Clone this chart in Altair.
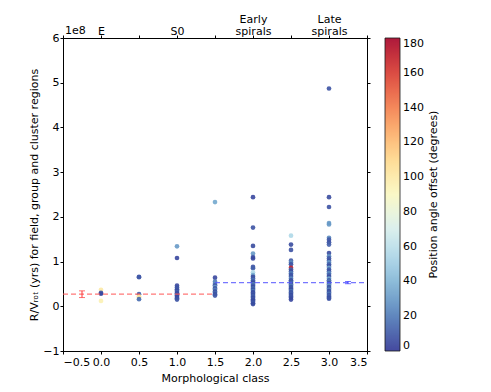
import altair as alt
import pandas as pd

# Morphological classes (x) and per-class R/V_rot values (units of 1e8 yr) with position angle offsets
cls_E = 0.0
vals_E = [0.37, 0.30, 0.28, 0.12]
ang_E = [100, 10, 5, 95]

cls_05 = 0.5
vals_05 = [0.66, 0.65, 0.27, 0.22, 0.20, 0.16]
ang_05 = [8, 10, 12, 110, 100, 15]

cls_S0 = 1.0
vals_S0 = [1.34, 1.08, 0.46, 0.42, 0.38, 0.35, 0.32, 0.29, 0.26, 0.24, 0.21, 0.18, 0.15]
ang_S0 = [30, 5, 5, 8, 10, 6, 12, 5, 8, 10, 5, 7, 9]

cls_15 = 1.5
vals_15 = [2.33, 0.64, 0.55, 0.50, 0.47, 0.43, 0.40, 0.37, 0.33, 0.30, 0.27, 0.24]
ang_15 = [35, 5, 20, 25, 10, 30, 8, 22, 6, 15, 8, 10]

cls_early = 2.0
vals_early = [2.44, 1.76, 1.35, 1.18, 1.10, 1.07, 0.88, 0.85, 0.76, 0.70, 0.66, 0.62, 0.58,
              0.55, 0.52, 0.49, 0.46, 0.43, 0.40, 0.37, 0.34, 0.31, 0.28, 0.25, 0.22, 0.19,
              0.16, 0.13, 0.10, 0.07, 0.05]
ang_early = [5, 8, 6, 30, 10, 5, 8, 12, 55, 35, 6, 10, 20, 8, 5, 25, 10, 6, 15, 8, 20, 5,
             10, 7, 12, 6, 9, 5, 8, 10, 6]

cls_25 = 2.5
vals_25 = [1.58, 1.38, 1.26, 1.02, 0.98, 0.94, 0.86, 0.82, 0.78, 0.74, 0.70, 0.66, 0.62,
           0.58, 0.55, 0.52, 0.49, 0.46, 0.43, 0.40, 0.37, 0.34, 0.31, 0.28, 0.25, 0.22,
           0.19, 0.15]
ang_25 = [55, 6, 8, 10, 25, 8, 170, 12, 6, 20, 8, 10, 25, 6, 9, 15, 7, 22, 8, 10, 6, 18,
          8, 12, 6, 9, 7, 5]

cls_late = 3.0
vals_late = [4.87, 2.44, 2.22, 1.86, 1.83, 1.53, 1.49, 1.43, 1.38, 1.19, 1.12, 1.07, 1.02,
             0.98, 0.94, 0.90, 0.86, 0.82, 0.78, 0.74, 0.70, 0.66, 0.62, 0.58, 0.55, 0.52,
             0.49, 0.46, 0.43, 0.40, 0.37, 0.34, 0.31, 0.28, 0.25, 0.22, 0.19, 0.17]
ang_late = [8, 6, 8, 30, 30, 25, 10, 8, 12, 6, 25, 10, 8, 30, 12, 6, 35, 10, 8, 25, 12, 6,
            35, 10, 20, 8, 15, 30, 8, 12, 25, 6, 10, 20, 8, 12, 6, 9]

# Mean levels and error bars
early_mean, early_err, early_x0, early_x1, early_errx = 0.27, 0.075, -0.5, 1.5, -0.25
late_mean, late_err, late_x0, late_x1, late_errx = 0.53, 0.025, 1.5, 3.5, 3.25

top_ticks = [-0.5, 0.0, 0.5, 1.0, 1.5, 2.0, 2.5, 3.0, 3.5]
y_ticks = [-1, 0, 1, 2, 3, 4, 5, 6]
cbar_ticks = [0, 20, 40, 60, 80, 100, 120, 140, 160, 180]
cbar_title = "Position angle offset (degrees)"
x_title = "Morphological class"
y_title = "R/V\u1d63\u2092\u209c (yrs) for field, group and cluster regions"

rows = []
for c, vs, an in [(cls_E, vals_E, ang_E), (cls_05, vals_05, ang_05), (cls_S0, vals_S0, ang_S0),
                  (cls_15, vals_15, ang_15), (cls_early, vals_early, ang_early),
                  (cls_25, vals_25, ang_25), (cls_late, vals_late, ang_late)]:
    for v, a in zip(vs, an):
        rows.append({"cls": c, "rv": v, "pa": a})
df = pd.DataFrame(rows)

W, H = 304, 313
font = "DejaVu Sans"
xscale = alt.Scale(domain=[-0.5, 3.5], nice=False, zero=False)
yscale = alt.Scale(domain=[-1, 6], nice=False, zero=False)

bottom_axis = alt.Axis(orient="bottom", values=top_ticks, format=".1f",
                       labelExpr="replace(datum.label, '-', '\u2212')",
                       grid=False, tickSize=3, labelFontSize=11, titleFontSize=11,
                       labelPadding=2, titlePadding=5)
left_axis = alt.Axis(orient="left", values=y_ticks, format="d",
                     labelExpr="replace(datum.label, '-', '\u2212')",
                     grid=False, tickSize=3, labelFontSize=11, titleFontSize=11,
                     labelPadding=1, titlePadding=3)

def xq(f):
    return alt.X(f, type="quantitative", scale=xscale, title=x_title, axis=bottom_axis)

def yq(f):
    return alt.Y(f, type="quantitative", scale=yscale, title=y_title, axis=left_axis)

points = alt.Chart(df).mark_circle(size=22, opacity=0.9).encode(
    x=xq("cls"),
    y=yq("rv"),
    color=alt.Color("pa:Q",
                    scale=alt.Scale(scheme="redyellowblue", reverse=True, domain=[0, 180]),
                    legend=alt.Legend(title=None,
                                      orient="right", gradientLength=H,
                                      gradientThickness=15, values=cbar_ticks,
                                      gradientStrokeColor="black", gradientStrokeWidth=0.8,
                                      labelFontSize=11, offset=14, labelOffset=3)),
)

lines_df = pd.DataFrame({
    "x0": [early_x0, late_x0], "x1": [early_x1, late_x1],
    "y": [early_mean, late_mean], "c": ["#ff5555", "#5555ff"],
})
lines = alt.Chart(lines_df).mark_rule(strokeDash=[5, 3], strokeWidth=1.2, opacity=0.8).encode(
    x=xq("x0"), x2="x1:Q", y=yq("y"), color=alt.Color("c:N", scale=None))

err_df = pd.DataFrame({
    "x": [early_errx, late_errx],
    "lo": [early_mean - early_err, late_mean - late_err],
    "hi": [early_mean + early_err, late_mean + late_err],
    "c": ["#ff3333", "#3333ff"],
})
err_rule = alt.Chart(err_df).mark_rule(strokeWidth=1).encode(
    x=xq("x"), y=yq("lo"), y2="hi:Q", color=alt.Color("c:N", scale=None))
cap_lo = alt.Chart(err_df).mark_tick(orient="horizontal", size=6, thickness=1).encode(
    x=xq("x"), y=yq("lo"), color=alt.Color("c:N", scale=None))
cap_hi = alt.Chart(err_df).mark_tick(orient="horizontal", size=6, thickness=1).encode(
    x=xq("x"), y=yq("hi"), color=alt.Color("c:N", scale=None))

offset_text = alt.Chart(pd.DataFrame({"cls": [-0.5], "rv": [6.0], "t": ["1e8"]})).mark_text(
    align="left", baseline="bottom", dx=2, dy=-2, fontSize=11, font=font).encode(
    x=xq("cls"), y=yq("rv"), text="t:N")

cbar_label = alt.Chart(pd.DataFrame({"t": [cbar_title]})).mark_text(
    angle=270, align="center", baseline="middle", fontSize=11, font=font).encode(
    x=alt.value(W + 67), y=alt.value(H / 2), text="t:N")

main = alt.layer(points, lines, err_rule, cap_lo, cap_hi, offset_text, cbar_label)

# Top axis with class names, right axis with bare ticks (same fixed domains)
top_df = pd.DataFrame({"cls": [0.0], "rv": [6.0]})
top_axis = alt.Chart(top_df).mark_point(opacity=0).encode(
    x=alt.X("cls:Q", scale=xscale, title=None,
            axis=alt.Axis(orient="top", values=top_ticks, grid=False, tickSize=3,
                          labelFontSize=11, labelPadding=11, labelLineHeight=12,
                          labelExpr="datum.value == 0 ? ['', 'E'] : datum.value == 1 ? ['', 'S0'] : datum.value == 2 ? ['Early', 'spirals'] : datum.value == 3 ? ['Late', 'spirals'] : ''")),
    y=alt.Y("rv:Q", scale=yscale, title=None,
            axis=alt.Axis(orient="right", values=y_ticks, grid=False,
                          tickSize=3, labels=False)),
)

chart = alt.layer(main, top_axis).resolve_scale(x="independent", y="independent").properties(
    width=W, height=H, padding={"left": 20, "top": 5, "right": 5, "bottom": 5}
).configure(font=font).configure_view(stroke="black", strokeWidth=1).configure_axis(
    domainColor="black", tickColor="black", labelColor="black", titleColor="black",
    labelFont=font, titleFont=font, titleFontWeight="normal"
).configure_legend(labelFont=font, titleFont=font)

chart.save("out.html", embed_options={"renderer": "svg", "actions": False})
